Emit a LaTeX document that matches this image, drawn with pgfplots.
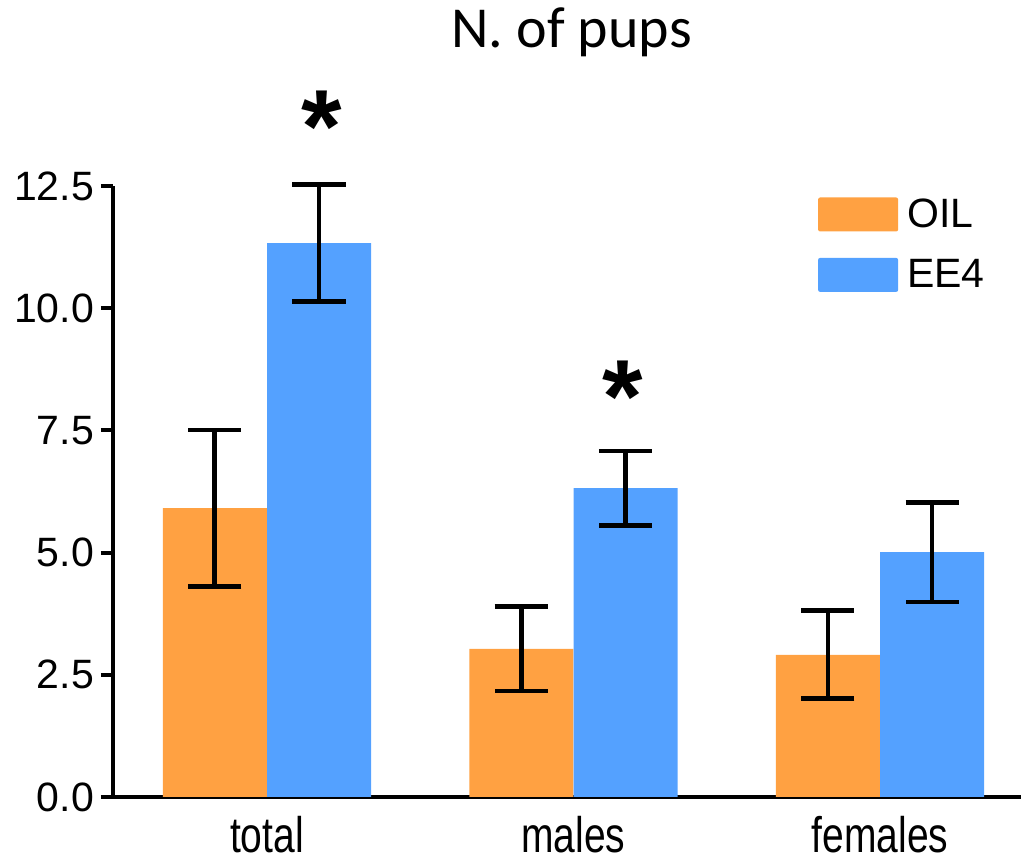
\documentclass[border=0pt]{standalone}
\usepackage{pgfplots}
\pgfplotsset{compat=1.18}
\usepackage{graphicx}
\usepackage{fontspec}
\setmainfont{Liberation Sans}
\newfontfamily\titlefont{Carlito}
\definecolor{oilc}{RGB}{255,161,66}
\definecolor{eec}{RGB}{84,161,255}
\newcommand{\narrow}[1]{\scalebox{0.78}[1]{#1}}
\begin{document}
\begin{tikzpicture}
\useasboundingbox (-56.5pt,-31.5pt) rectangle (454pt,398.5pt);
\begin{axis}[
  at={(0pt,0pt)}, anchor=south west,
  scale only axis, width=454pt, height=305.5pt,
  xmin=-0.502, xmax=2.46, ymin=0, ymax=12.5,
  axis lines=left,
  axis line style={-, line width=2.3pt},
  clip=false,
  ybar, bar width=52pt, bar shift=0pt,
  legend image code/.code={\fill[#1, rounded corners=1pt] (0pt,-8.5pt) rectangle (40pt,8.5pt);},
  xtick={0,1,2}, xticklabels={\narrow{total},\narrow{males},\narrow{females}},
  xtick style={draw=none},
  xticklabel style={anchor=base, inner sep=0pt, yshift=-22pt, font=\fontsize{25pt}{28pt}\selectfont},
  ytick={0,2.5,5,7.5,10,12.5},
  ytick style={line width=2pt, black},
  tick align=outside, major tick length=6pt,
  yticklabel style={font=\fontsize{20.5pt}{22pt}\selectfont, /pgf/number format/.cd, fixed, fixed zerofill, precision=1, assume math mode=true},
  legend style={at={(0.7695,0.993)}, anchor=north west, draw=none, fill=none, font=\fontsize{20.5pt}{24pt}\selectfont, row sep=10.5pt, column sep=2.5pt, legend cell align=left},
  title={N. of pups},
  title style={at={(0.505,1.2275)}, anchor=base, yshift=-6.5pt, font=\titlefont\fontsize{29pt}{34pt}\selectfont},
  error bars/y dir=both, error bars/y explicit,
  error bars/error bar style={line width=2.3pt, black},
  error bars/error mark options={rotate=90, line width=2.4pt, mark size=13.3pt, black},
]
\addplot[fill=oilc, draw=none] coordinates {(-0.17,5.91) +- (0,1.6) (0.83,3.03) +- (0,0.86) (1.83,2.91) +- (0,0.9)};
\addplot[fill=eec, draw=none] coordinates {(0.17,11.33) +- (0,1.2) (1.17,6.32) +- (0,0.76) (2.17,5.01) +- (0,1.02)};
\legend{OIL,EE4}
\node[anchor=north, font=\bfseries\fontsize{52pt}{52pt}\selectfont, inner sep=0pt] at (axis cs:0.18,14.45) {*};
\node[anchor=north, font=\bfseries\fontsize{52pt}{52pt}\selectfont, inner sep=0pt] at (axis cs:1.16,8.93) {*};
\end{axis}
\end{tikzpicture}
\end{document}
